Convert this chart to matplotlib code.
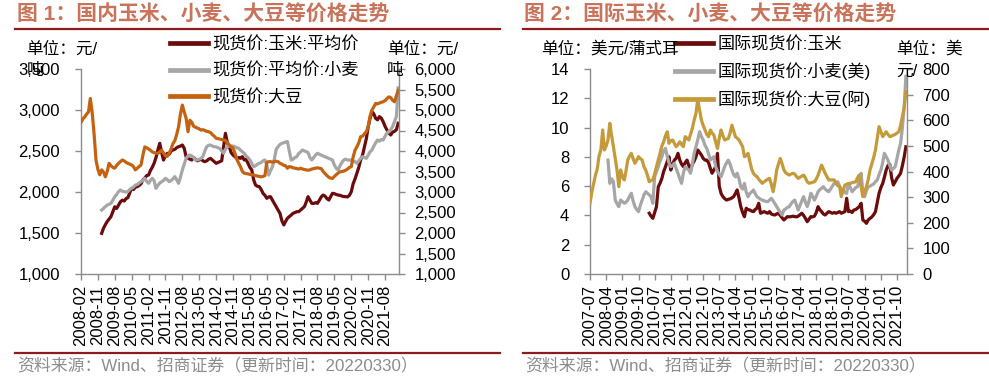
import numpy as np
import pandas as pd
import matplotlib
matplotlib.use('Agg')
import matplotlib.pyplot as plt
from matplotlib.lines import Line2D
from matplotlib.ticker import FuncFormatter, MultipleLocator

plt.rcParams['font.family'] = ['Liberation Sans', 'Noto Sans CJK SC']
plt.rcParams['axes.unicode_minus'] = False

# ---------------- chart 1: domestic prices, monthly from 2008-02 ----------------
cn_dates = pd.date_range('2008-02-01', periods=170, freq='MS')

# 现货价:大豆 (right axis, yuan/ton)
cn_soy = [
    4700, 4780, 4830, 4900, 4950, 5280, 4930, 4400, 3780, 3550, 3420,
    3540, 3480, 3370, 3500, 3700, 3640, 3600, 3580, 3650, 3700, 3740, 3780,
    3760, 3720, 3700, 3680, 3660, 3620, 3540, 3580, 3620, 3660, 3900, 4100,
    4080, 4050, 4020, 3980, 3960, 3950, 3940, 3980, 4020, 3950, 3880, 3870,
    3950, 4050, 4180, 4250, 4400, 4590, 4900, 5120, 4950, 4800, 4470, 4750,
    4700, 4600, 4580, 4560, 4540, 4510, 4520, 4500, 4480, 4470, 4450, 4400,
    4360, 4310, 4300, 4290, 4280, 4270, 4260, 4200, 4150, 4100, 4070, 3950,
    3800, 3700, 3620, 3500, 3460, 3450, 3440, 3430, 3420, 3415, 3400, 3390,
    3380, 3370, 3380, 3400, 3720, 3740, 3740, 3730, 3740, 3750, 3740, 3700,
    3680, 3650, 3640, 3580, 3620, 3610, 3590, 3580, 3570, 3560, 3580, 3560,
    3550, 3540, 3530, 3540, 3560, 3570, 3580, 3590, 3580, 3570, 3500, 3450,
    3400, 3360, 3340, 3330, 3380, 3420, 3460, 3490, 3500, 3510, 3530, 3560,
    3600, 3620, 3850, 4020, 4100, 4200, 4350, 4360, 4420, 4470, 4600, 4850,
    5000, 5080, 5160, 5150, 5170, 5190, 5200, 5230, 5280, 5320, 5300, 5240,
    5200, 5350, 5480,
]

# 现货价:玉米:平均价 (left axis), starts 2009-01
cn_corn = [np.nan] * 11 + [
    1496, 1560, 1600, 1640, 1670, 1700, 1760, 1820, 1800, 1840, 1880, 1900,
    1890, 1920, 1930, 1990, 2045, 2030, 2060, 2065, 2080, 2100, 2146, 2170,
    2200, 2207, 2260, 2300, 2350, 2420, 2512, 2594, 2480, 2390, 2440, 2472,
    2460, 2500, 2512, 2520, 2540, 2553, 2560, 2573, 2533, 2430, 2410, 2400,
    2390, 2420, 2400, 2380, 2390, 2400, 2380, 2370, 2380, 2400, 2410, 2390,
    2370, 2350, 2360, 2370, 2380, 2553, 2716, 2600, 2553, 2480, 2451, 2430,
    2410, 2420, 2410, 2431, 2390, 2400, 2350, 2300, 2268, 2150, 2085, 2070,
    2065, 2030, 1984, 1960, 1923, 1940, 1943, 1900, 1860, 1821, 1780, 1740,
    1650, 1598, 1640, 1680, 1699, 1720, 1740, 1750, 1760, 1760, 1780, 1800,
    1821, 1880, 1943, 1900, 1862, 1860, 1870, 1862, 1900, 1940, 1963, 1950,
    1920, 1902, 1940, 1984, 1980, 1970, 1963, 1960, 1950, 1945, 1943, 1940,
    1960, 2004, 2100, 2160, 2228, 2300, 2390, 2450, 2553, 2650, 2797, 2900,
    2980, 2950, 2898, 2880, 2919, 2900, 2858, 2800, 2756, 2720, 2695, 2730,
    2740, 2760, 2838,
]

# 现货价:平均价:小麦 (left axis), starts 2009-01
cn_wheat = [np.nan] * 11 + [
    1780, 1800, 1821, 1841, 1850, 1862, 1900, 1943, 1970, 2004, 2024, 2010,
    2004, 2000, 2004, 2030, 2045, 2060, 2085, 2090, 2110, 2126, 2140, 2167,
    2130, 2106, 2140, 2167, 2140, 2045, 2080, 2110, 2126, 2140, 2167, 2150,
    2126, 2140, 2160, 2187, 2150, 2106, 2180, 2268, 2340, 2410, 2440, 2451,
    2440, 2420, 2390, 2390, 2400, 2410, 2431, 2500, 2553, 2570, 2573, 2560,
    2553, 2550, 2540, 2530, 2500, 2472, 2520, 2553, 2560, 2561, 2560, 2553,
    2540, 2533, 2510, 2490, 2472, 2440, 2420, 2390, 2350, 2308, 2320, 2340,
    2350, 2360, 2380, 2390, 2330, 2207, 2260, 2308, 2400, 2520, 2553, 2580,
    2594, 2600, 2610, 2614, 2500, 2390, 2400, 2420, 2431, 2470, 2490, 2512,
    2500, 2492, 2480, 2420, 2390, 2420, 2450, 2472, 2460, 2450, 2440, 2431,
    2420, 2410, 2400, 2390, 2330, 2290, 2268, 2320, 2360, 2390, 2400, 2390,
    2390, 2390, 2380, 2370, 2350, 2380, 2410, 2431, 2420, 2410, 2450, 2490,
    2512, 2560, 2600, 2634, 2620, 2640, 2634, 2680, 2720, 2736, 2760, 2797,
    2858, 2920, 3270,
]

# ---------------- chart 2: international prices, monthly from 2007-07 ----------------
int_dates = pd.date_range('2007-07-01', periods=177, freq='MS')

# 国际现货价:大豆(阿) (right axis, USD/ton)
int_soy = [
    276, 320, 354, 385, 410, 460,
    484, 562, 484, 500, 523, 588, 540, 497, 450, 406, 341, 406,
    380, 367, 400, 445, 460, 471, 450, 432, 445, 458, 450, 445,
    419, 405, 385, 360, 365, 367, 390, 419, 445, 471, 500, 516,
    540, 555, 510, 520, 523, 510, 497, 505, 516, 505, 497, 536,
    530, 523, 545, 569, 600, 627, 680, 640, 601, 580, 562, 545,
    536, 562, 550, 542, 515, 490, 530, 562, 540, 523, 526, 529,
    550, 581, 560, 536, 530, 523, 510, 497, 458, 462, 471, 440,
    410, 393, 385, 380, 370, 362, 354, 360, 365, 370, 373, 350,
    321, 360, 406, 430, 451, 430, 406, 395, 390, 386, 390, 393,
    390, 380, 373, 378, 382, 386, 375, 360, 354, 356, 358, 360,
    370, 386, 405, 425, 410, 393, 380, 367, 367, 367, 367, 355,
    345, 341, 302, 325, 347, 350, 352, 354, 356, 358, 360, 375,
    386, 341, 302, 320, 341, 370, 406, 430, 455, 484, 530, 575,
    555, 536, 545, 555, 545, 536, 538, 542, 545, 550, 555, 580,
    614, 650, 712,
]

# 国际现货价:玉米 (left axis, USD/bushel), starts 2010-04
int_corn = [np.nan] * 33 + [
    4.15, 3.95, 3.80, 4.20, 4.60, 5.96, 6.20, 6.53, 7.00,
    7.33, 7.70, 8.01, 7.10, 7.50, 7.78, 7.90, 8.24, 7.78, 7.50, 7.33, 7.60,
    7.78, 7.40, 7.10, 7.50, 7.70, 8.01, 8.47, 8.30, 8.13, 7.90, 7.78, 7.78,
    7.60, 7.20, 6.88, 7.10, 7.33, 8.24, 6.00, 5.50, 5.28, 5.15, 5.05, 5.10,
    5.13, 5.20, 5.28, 5.50, 5.74, 5.20, 4.60, 4.20, 3.91, 4.49, 4.40, 4.37,
    4.30, 4.26, 4.40, 4.50, 4.83, 4.15, 4.20, 4.26, 4.20, 4.15, 4.26, 4.10,
    4.05, 4.03, 4.10, 4.15, 4.00, 3.85, 3.69, 3.80, 3.92, 3.90, 3.92, 3.95,
    3.92, 3.90, 3.95, 4.05, 4.15, 4.00, 3.80, 3.57, 3.75, 3.92, 3.90, 3.95,
    4.20, 4.60, 4.40, 4.26, 4.10, 4.03, 4.15, 4.26, 4.20, 4.15, 4.20, 4.15,
    4.20, 4.26, 4.15, 4.20, 4.26, 5.17, 4.26, 4.30, 4.20, 4.37, 4.40, 4.50,
    4.60, 4.83, 3.69, 3.60, 3.46, 3.70, 3.80, 3.90, 4.05, 4.26, 4.90, 5.51,
    5.90, 6.19, 6.60, 7.10, 7.40, 7.50, 6.60, 6.08, 6.30, 6.53, 6.70, 6.88,
    7.40, 8.01, 8.69,
]

# 国际现货价:小麦(美) (left axis, USD/bushel), starts 2008-05
int_wheat = [np.nan] * 10 + [
    7.78, 6.19, 6.50, 6.30, 5.05, 4.80, 4.60, 5.05,
    4.95, 4.83, 4.90, 5.05, 5.30, 5.51, 5.00, 4.60, 4.40, 4.26, 4.70, 5.05,
    5.40, 5.62, 5.51, 5.40, 5.28, 4.83, 6.64, 7.00, 7.33, 7.70, 8.01, 8.40,
    8.58, 8.01, 7.60, 7.33, 7.40, 7.56, 7.20, 6.88, 6.50, 6.19, 6.90, 7.33,
    7.20, 7.10, 6.88, 7.50, 8.24, 8.70, 9.15, 9.72, 9.40, 9.15, 8.80, 8.58,
    8.20, 7.78, 7.90, 8.01, 7.33, 7.00, 6.80, 6.64, 7.00, 7.33, 7.60, 7.78,
    7.50, 7.10, 6.80, 6.64, 6.88, 6.50, 5.96, 5.80, 6.19, 5.60, 5.28, 5.50,
    5.60, 5.74, 5.50, 5.28, 5.20, 5.10, 5.05, 5.00, 4.95, 4.94, 5.05, 5.17,
    5.00, 4.80, 4.60, 4.40, 4.20, 4.03, 4.37, 4.45, 4.55, 4.60, 4.80, 4.95,
    5.05, 4.70, 4.37, 4.70, 5.00, 5.28, 4.90, 4.60, 5.00, 5.51, 5.30, 5.05,
    5.30, 5.62, 5.75, 5.85, 5.96, 5.80, 5.70, 5.62, 5.80, 6.00, 6.19, 6.25,
    6.30, 6.00, 5.80, 5.74, 5.55, 5.51, 6.19, 5.90, 5.62, 5.75, 5.90, 5.96,
    6.40, 6.88, 5.60, 5.28, 5.70, 5.96, 6.00, 6.08, 6.15, 6.30, 6.42, 6.80,
    7.10, 7.60, 8.24, 8.00, 7.78, 7.40, 7.10, 7.20, 7.33, 7.90, 8.47, 8.92,
    10.00, 11.50, 13.50,
]

cn_ticks = pd.date_range('2008-02-01', '2021-08-01', freq='9MS')
int_ticks = pd.date_range('2007-07-01', '2021-10-01', freq='9MS')

# ---------------- styling ----------------
W, H = 989, 378
DARK = '#6B0B0B'
GRAY = '#A6A6A6'
ORANGE = '#C5620F'
GOLD = '#C49A3A'
SPINE = '#8C8C8C'
RULE = '#8E1B1B'
TITLE = '#C8735A'
LW = 2.3

fig = plt.figure(figsize=(W / 100, H / 100), dpi=100)


def fx(x):
    return x / W


def fy(y):
    return 1 - y / H


def make_axes(x0, x1):
    ax = fig.add_axes([fx(x0), fy(274), fx(x1) - fx(x0), fy(69) - fy(274)])
    ax2 = ax.twinx()
    for a in (ax, ax2):
        a.spines['top'].set_visible(False)
        a.patch.set_visible(False)
        for s in ('left', 'right', 'bottom'):
            a.spines[s].set_color(SPINE)
            a.spines[s].set_linewidth(1.0)
        a.tick_params(axis='both', direction='out', length=4, width=1,
                      color=SPINE, labelsize=12, labelcolor='black')
    ax.tick_params(axis='y', pad=11)
    ax.tick_params(axis='x', pad=4)
    ax2.tick_params(axis='y', pad=7)
    ax.spines['right'].set_visible(False)
    ax2.spines['left'].set_visible(False)
    ax2.spines['bottom'].set_visible(False)
    return ax, ax2


def fmt_x(ax, ticks, start, end):
    ax.set_xlim(start, end)
    ax.set_xticks(ticks)
    ax.set_xticklabels([t.strftime('%Y-%m') for t in ticks], rotation=90,
                       fontsize=12)


comma = FuncFormatter(lambda v, p: f'{v:,.0f}')

leg_kw = dict(loc='upper left', bbox_transform=fig.transFigure, frameon=False,
              fontsize=12.3, handlelength=2.2, handletextpad=0.3,
              labelspacing=0.6, borderaxespad=0, borderpad=0)

# ---- chart 1 ----
ax1, ax1r = make_axes(81, 399)
ax1.plot(cn_dates, cn_corn, color=DARK, lw=LW)
ax1.plot(cn_dates, cn_wheat, color=GRAY, lw=LW)
ax1r.plot(cn_dates, cn_soy, color=ORANGE, lw=LW)
ax1.set_ylim(1000, 3500)
ax1r.set_ylim(1000, 6000)
ax1.yaxis.set_major_locator(MultipleLocator(500))
ax1r.yaxis.set_major_locator(MultipleLocator(500))
ax1.yaxis.set_major_formatter(comma)
ax1r.yaxis.set_major_formatter(comma)
fmt_x(ax1, cn_ticks, pd.Timestamp('2008-02-01'), pd.Timestamp('2022-03-15'))

h1 = [Line2D([], [], color=DARK, lw=3.4), Line2D([], [], color=GRAY, lw=3.4),
      Line2D([], [], color=ORANGE, lw=3.4)]
ax1r.legend(h1, ['现货价:玉米:平均价', '现货价:平均价:小麦', '现货价:大豆'],
            bbox_to_anchor=(fx(170), fy(36)), **leg_kw)

# ---- chart 2 ----
ax2, ax2r = make_axes(590, 907)
ax2.plot(int_dates, int_corn, color=DARK, lw=LW)
ax2.plot(int_dates, int_wheat, color=GRAY, lw=LW)
ax2r.plot(int_dates, int_soy, color=GOLD, lw=LW)
ax2.set_ylim(0, 14)
ax2r.set_ylim(0, 800)
ax2.yaxis.set_major_locator(MultipleLocator(2))
ax2r.yaxis.set_major_locator(MultipleLocator(100))
fmt_x(ax2, int_ticks, pd.Timestamp('2007-07-01'), pd.Timestamp('2022-03-20'))

h2 = [Line2D([], [], color=DARK, lw=3.4), Line2D([], [], color=GRAY, lw=3.4),
      Line2D([], [], color=GOLD, lw=3.4)]
ax2r.legend(h2, ['国际现货价:玉米', '国际现货价:小麦(美)', '国际现货价:大豆(阿)'],
            bbox_to_anchor=(fx(675), fy(36)), **leg_kw)

# ---- titles, unit labels, rules, source ----
fig.text(fx(17), fy(15), '图 1：国内玉米、小麦、大豆等价格走势', fontsize=15,
         fontweight='bold', color=TITLE, va='center', ha='left')
fig.text(fx(524), fy(15), '图 2：国际玉米、小麦、大豆等价格走势', fontsize=15,
         fontweight='bold', color=TITLE, va='center', ha='left')

for x0, x1 in ((15, 500), (523, 989)):
    fig.add_artist(Line2D([fx(x0), fx(x1)], [fy(29), fy(29)], color=RULE, lw=1.6))
    fig.add_artist(Line2D([fx(x0), fx(x1)], [fy(353), fy(353)], color=RULE, lw=1.6))

src = '资料来源：Wind、招商证券（更新时间：20220330）'
fig.text(fx(17), fy(366), src, fontsize=12.2, color='#8C8C8C', va='center')
fig.text(fx(525), fy(366), src, fontsize=12.2, color='#8C8C8C', va='center')

unit_kw = dict(fontsize=12, color='black', va='center', ha='left')
fig.text(fx(26), fy(49), '单位：元/', **unit_kw)
fig.text(fx(27), fy(71), '吨', **unit_kw)
fig.text(fx(387), fy(49), '单位：元/', **unit_kw)
fig.text(fx(387), fy(71), '吨', **unit_kw)
fig.text(fx(541), fy(49), '单位：美元/蒲式耳', **unit_kw)
fig.text(fx(896), fy(49), '单位：美', **unit_kw)
fig.text(fx(896), fy(71), '元/', **unit_kw)

fig.savefig('out.png', dpi=100)
